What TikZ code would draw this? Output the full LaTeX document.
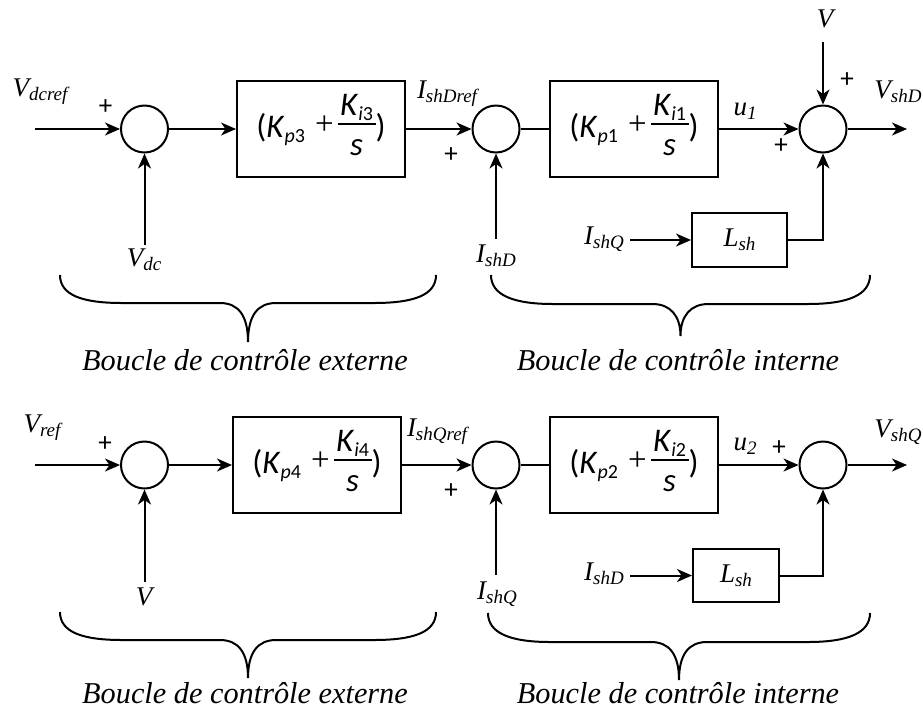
\RequirePackage{fix-cm}
\documentclass[tikz,border=0pt]{standalone}
\usepackage{fontspec}
\setmainfont{Liberation Serif}
\newfontfamily\carl{Carlito}
\usetikzlibrary{arrows.meta}

% lowered, smaller index used by the signal names
\newcommand\sub[1]{\raisebox{-0.15em}{\fontsize{19}{19}\selectfont #1}}
% stacked fraction with a rule 12.4pt above the baseline
\newsavebox\numbox
\newsavebox\denbox
\newlength\fracw
\newcommand\pifrac[2]{%
  \sbox\numbox{#1}\sbox\denbox{#2}%
  \setlength\fracw{\wd\numbox}%
  \ifdim\wd\denbox>\fracw \setlength\fracw{\wd\denbox}\fi
  \addtolength\fracw{5pt}%
  \rlap{\raisebox{22pt}{\makebox[\fracw]{\usebox\numbox}}}%
  \rlap{\rule[12.4pt]{\fracw}{1.3pt}}%
  \raisebox{-18pt}{\makebox[\fracw]{\usebox\denbox}}}
% PI gain (K_p + K_i / s) written in the block; the strut centres it 8pt above its baseline
\newcommand\gain[2]{\smash{(\textit{K}\raisebox{-5pt}{\fontsize{20}{20}\selectfont\textit{p}#1}\hspace{10pt}\raisebox{3pt}{\rmfamily +}\hspace{4pt}\pifrac{\textit{K}\raisebox{-5.5pt}{\fontsize{20}{20}\selectfont\textit{i}#2}}{\textit{s}})}\rule[-10pt]{0pt}{36pt}}
% curly brace under a loop: left x, right x, end y, flat y, tip y
\newcommand\curly[5]{%
  \draw[bracestroke] (#1,#3) .. controls (#1,#3+20) and (#1+22,#4) .. (#1+62,#4)
    -- ({(#1+#2)/2-28},#4) .. controls ({(#1+#2)/2-10},#4) and ({(#1+#2)/2},#4+12) .. ({(#1+#2)/2},#5)
    .. controls ({(#1+#2)/2},#4+12) and ({(#1+#2)/2+10},#4) .. ({(#1+#2)/2+28},#4)
    -- (#2-62,#4) .. controls (#2-22,#4) and (#2,#3+20) .. (#2,#3);}

\tikzset{
  wire/.style={line width=2pt},
  flow/.style={wire,-{Stealth[length=15pt,width=13pt,inset=4.5pt]}},
  sumnode/.style={circle,draw,line width=2pt,minimum size=47pt,inner sep=0pt},
  blockbox/.style={draw,line width=2pt,inner sep=0pt,font=\carl\fontsize{33}{36}\selectfont},
  pibox/.style={blockbox,minimum width=168pt,minimum height=96pt},
  lbox/.style={draw,line width=2pt,inner sep=0pt,font=\fontsize{27}{30}\selectfont\itshape},
  sig/.style={font=\fontsize{27}{30}\selectfont\itshape,inner sep=0pt},
  sgn/.style={font=\carl\fontsize{27}{27}\selectfont,inner sep=0pt},
  caption/.style={font=\fontsize{30.3}{32}\selectfont\itshape,inner sep=0pt,anchor=base},
  bracestroke/.style={line width=2pt},
}

\begin{document}
\begin{tikzpicture}[x=1pt,y=-1pt]
\useasboundingbox (0,0) rectangle (923,713);

% ---------------- D axis ----------------
\node[sumnode] (s1) at (144.5,129) {};
\node[pibox] (g3) at (321,129) {\gain{3}{3}};
\node[sumnode] (s2) at (496,129) {};
\node[pibox] (g1) at (634,129) {\gain{1}{1}};
\node[sumnode] (s3) at (823,129) {};
\node[lbox,minimum width=95pt,minimum height=54pt] (l1) at (739.5,240) {L\sub{sh}};

\coordinate (in1) at (35,129);
\coordinate (vdc) at (144.5,245);
\coordinate (ishd) at (496,239);
\coordinate (vtop) at (823,42);
\coordinate (out1) at (907,129);
\coordinate (iq1) at (630,240);

\draw[flow] (in1) -- (s1.west);
\draw[flow] (vdc) -- (s1.south);
\draw[flow] (s1.east) -- (g3.west);
\draw[flow] (g3.east) -- (s2.west);
\draw[flow] (ishd) -- (s2.south);
\draw[wire] (s2.east) -- (g1.west);
\draw[flow] (g1.east) -- (s3.west);
\draw[flow] (vtop) -- (s3.north);
\draw[flow] (s3.east) -- (out1);
\draw[flow] (iq1) -- (l1.west);
\draw[flow] (l1.east) -| (s3.south);

\node[sig] (t1) at (40,92) {V\sub{dcref}};
\node[sgn] (p1) at (105.5,107) {+};
\node[sig] (t2) at (144,260) {V\sub{dc}};
\node[sig] (t3) at (447,94) {I\sub{shDref}};
\node[sgn] (p2) at (451,155) {+};
\node[sig] (t4) at (496,256) {I\sub{shD}};
\node[sig] (t5) at (745,111) {u\sub{1}};
\node[sgn] (p3) at (781,146) {+};
\node[sig] (t6) at (825,19) {V};
\node[sgn] (p4) at (847,80) {+};
\node[sig] (t7) at (898,92) {V\sub{shD}};
\node[sig] (t8) at (604,239) {I\sub{shQ}};

\curly{60}{436}{275}{303}{342}
\curly{491}{870}{275}{304}{336}
\node[caption] (c1) at (245,370) {Boucle de contrôle externe};
\node[caption] (c2) at (678,370) {Boucle de contrôle interne};

% ---------------- Q axis ----------------
\node[sumnode] (s4) at (144.5,465) {};
\node[pibox] (g4) at (317,465) {\gain{4}{4}};
\node[sumnode] (s5) at (496,465) {};
\node[pibox] (g2) at (634,465) {\gain{2}{2}};
\node[sumnode] (s6) at (823,465) {};
\node[lbox,minimum width=86pt,minimum height=53pt] (l2) at (736,575.5) {L\sub{sh}};

\coordinate (in2) at (35,465);
\coordinate (vb) at (144.5,582);
\coordinate (ishq) at (496,575);
\coordinate (out2) at (907,465);
\coordinate (id2) at (630,575.5);

\draw[flow] (in2) -- (s4.west);
\draw[flow] (vb) -- (s4.south);
\draw[flow] (s4.east) -- (g4.west);
\draw[flow] (g4.east) -- (s5.west);
\draw[flow] (ishq) -- (s5.south);
\draw[wire] (s5.east) -- (g2.west);
\draw[flow] (g2.east) -- (s6.west);
\draw[flow] (s6.east) -- (out2);
\draw[flow] (id2) -- (l2.west);
\draw[flow] (l2.east) -| (s6.south);

\node[sig] (b1) at (42,428) {V\sub{ref}};
\node[sgn] (q1) at (105,444) {+};
\node[sig] (b2) at (144,597) {V};
\node[sig] (b3) at (437,432) {I\sub{shQref}};
\node[sgn] (q2) at (451,491) {+};
\node[sig] (b4) at (497,594) {I\sub{shQ}};
\node[sig] (b5) at (745,446) {u\sub{2}};
\node[sgn] (q3) at (779,448) {+};
\node[sig] (b6) at (898,432) {V\sub{shQ}};
\node[sig] (b7) at (604,574) {I\sub{shD}};

\curly{60}{436}{612}{640}{678}
\curly{488}{870}{613}{642}{680}
\node[caption] (c3) at (245,703) {Boucle de contrôle externe};
\node[caption] (c4) at (678,703) {Boucle de contrôle interne};
\end{tikzpicture}
\end{document}
